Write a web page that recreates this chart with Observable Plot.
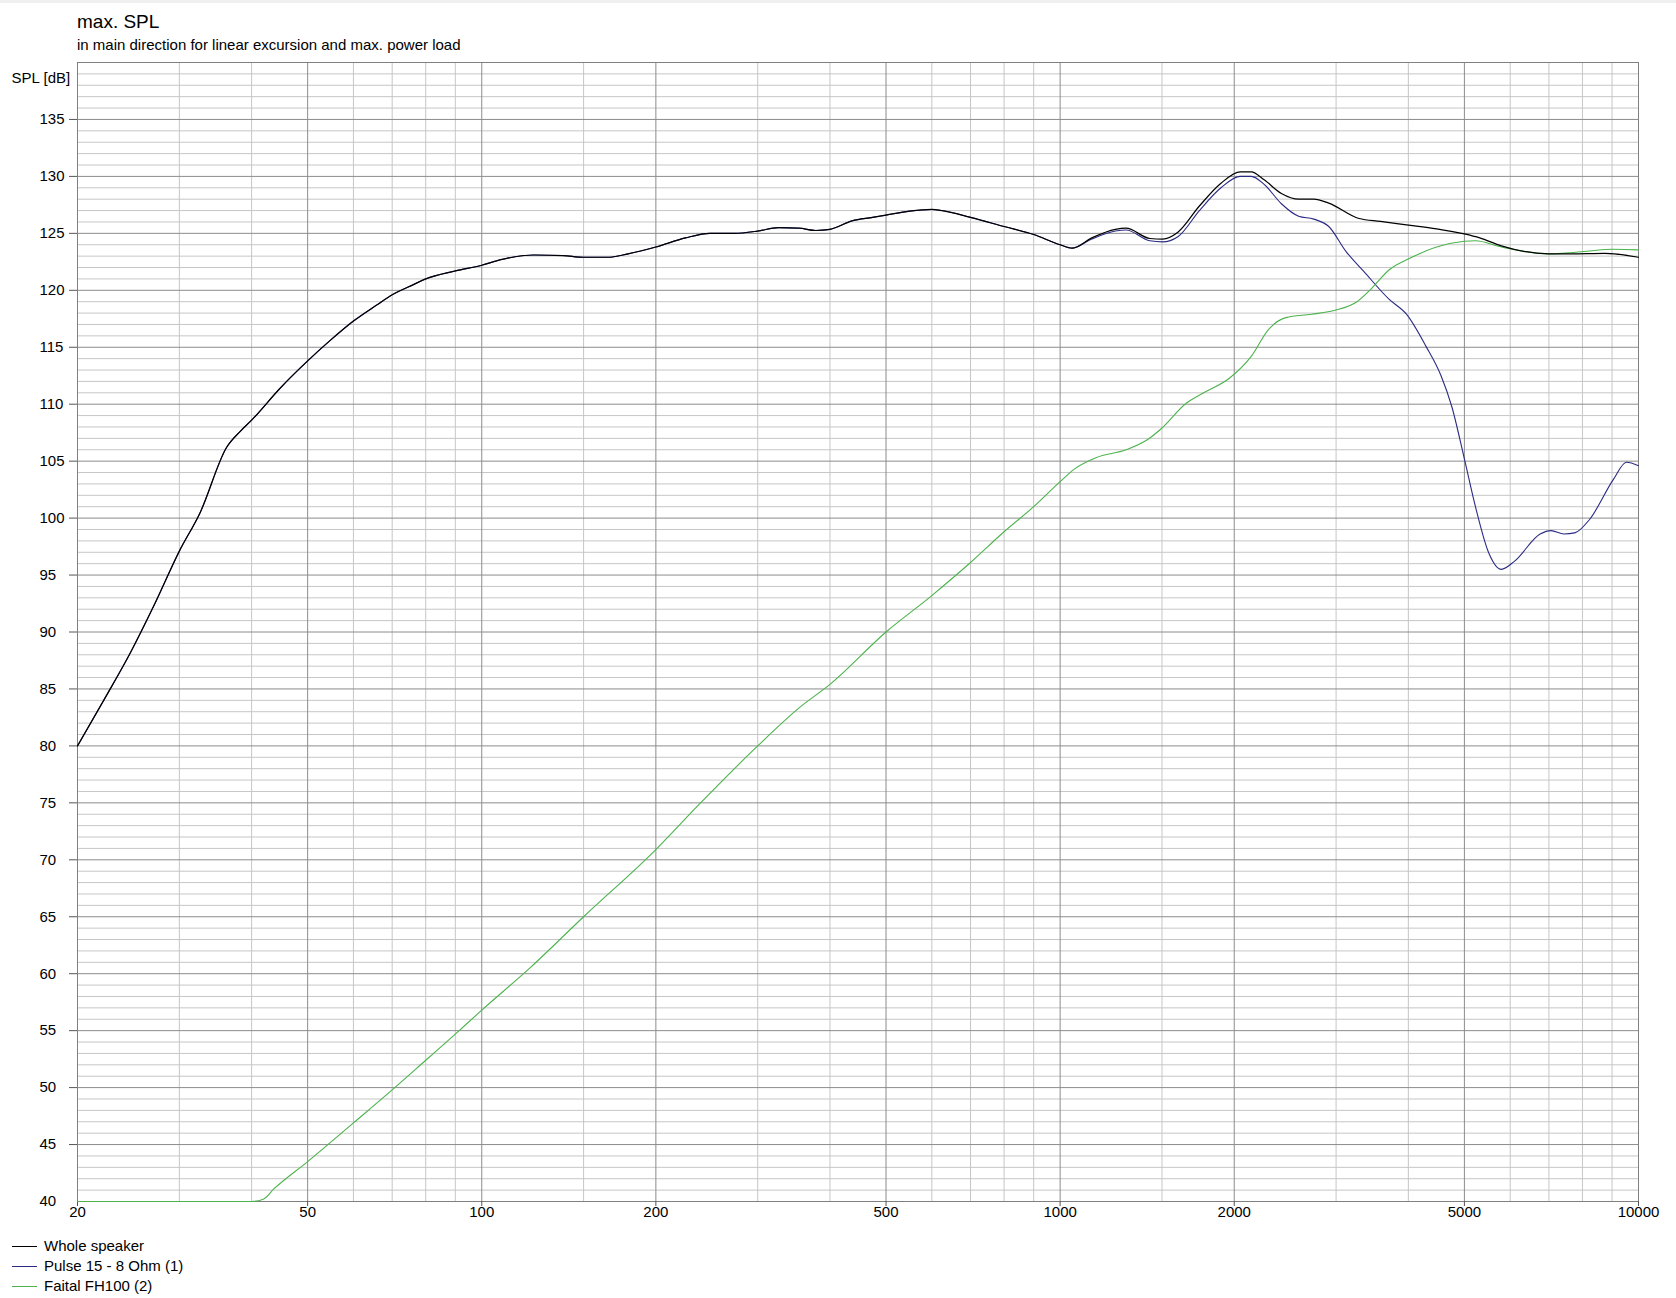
<!DOCTYPE html>
<html>
<head>
<meta charset="utf-8">
<script src="https://cdn.jsdelivr.net/npm/d3@7"></script>
<script src="https://cdn.jsdelivr.net/npm/@observablehq/plot@0.6"></script>
<style>
  body { margin: 0; background: #fff; font-family: "Liberation Sans", Arial, sans-serif; color: #000; }
  #wrap { position: relative; width: 1676px; }
  #strip { position: absolute; left: 0; top: 0; width: 1676px; height: 3px; background: #efefef; }
  #head { position: relative; height: 56px; }
  #title { position: absolute; left: 77px; top: 12px; font-size: 19px; line-height: 19px; white-space: nowrap; }
  #sub { position: absolute; left: 77px; top: 37px; font-size: 15px; line-height: 15px; white-space: nowrap; }
  #chart svg { display: block; }
  #legend { position: relative; height: 67px; }
  .lline { position: absolute; left: 12px; width: 25px; height: 1px; }
  .ltext { position: absolute; left: 44px; font-size: 15px; line-height: 20px; height: 20px; white-space: nowrap; }
</style>
</head>
<body>
<div id="wrap">
  <div id="head">
    <div id="strip"></div>
    <div id="title">max. SPL</div>
    <div id="sub">in main direction for linear excursion and max. power load</div>
  </div>
  <div id="chart"></div>
  <div id="legend"></div>
</div>
<script>
// ---- data ----
const seriesNames = ["Whole speaker", "Pulse 15 - 8 Ohm (1)", "Faital FH100 (2)"];
const seriesColors = ["#000000", "#2b2b85", "#4cb34c"];

const freqWhole = [20, 22.2, 24.7, 27.1, 30, 32.6, 36.2, 38.2, 40, 44.8, 50, 54.7, 60, 65.8, 70, 76.2, 80, 90, 100, 108, 123, 138, 150, 165, 179, 200, 225, 248, 273, 300, 326, 354, 378, 400, 437, 474, 500, 549, 600, 625, 700, 800, 900, 1000, 1049, 1134, 1246, 1300, 1429, 1504, 1598, 1741, 1897, 2049, 2140, 2253, 2413, 2585, 2745, 2914, 3287, 3580, 3970, 4477, 5000, 5316, 5792, 7000, 7625, 8745, 10000];
const splWhole = [80.0, 84.0, 88.2, 92.3, 97.1, 100.5, 106.2, 107.6, 108.6, 111.4, 113.8, 115.6, 117.3, 118.7, 119.6, 120.5, 121.0, 121.7, 122.2, 122.7, 123.1, 123.05, 122.9, 122.9, 123.2, 123.8, 124.6, 125.0, 125.0, 125.2, 125.5, 125.45, 125.25, 125.35, 126.1, 126.4, 126.6, 126.95, 127.1, 127.0, 126.4, 125.6, 124.9, 124.0, 123.7, 124.6, 125.35, 125.45, 124.55, 124.5, 125.1, 127.4, 129.4, 130.4, 130.4, 129.7, 128.5, 128.0, 128.0, 127.65, 126.3, 126.05, 125.75, 125.4, 124.95, 124.6, 123.9, 123.2, 123.2, 123.25, 122.9];

const freqPulse = [20, 22.2, 24.7, 27.1, 30, 32.6, 36.2, 38.2, 40, 44.8, 50, 54.7, 60, 65.8, 70, 76.2, 80, 90, 100, 108, 123, 138, 150, 165, 179, 200, 225, 248, 273, 300, 326, 354, 378, 400, 437, 474, 500, 549, 600, 625, 700, 800, 900, 1000, 1049, 1134, 1246, 1300, 1429, 1504, 1598, 1741, 1897, 2049, 2140, 2253, 2413, 2585, 2745, 2914, 3122, 3344, 3707, 3970, 4289, 4556, 4755, 5000, 5225, 5503, 5792, 6099, 6760, 7057, 7430, 7757, 8235, 9050, 9530, 10000];
const splPulse = [80.0, 84.0, 88.2, 92.3, 97.1, 100.5, 106.2, 107.6, 108.6, 111.4, 113.8, 115.6, 117.3, 118.7, 119.6, 120.5, 121.0, 121.7, 122.2, 122.7, 123.1, 123.05, 122.9, 122.9, 123.2, 123.8, 124.6, 125.0, 125.0, 125.2, 125.5, 125.45, 125.25, 125.35, 126.1, 126.4, 126.6, 126.95, 127.1, 127.0, 126.4, 125.6, 124.9, 124.0, 123.7, 124.5, 125.2, 125.3, 124.35, 124.25, 124.7, 127.0, 129.0, 130.0, 130.0, 129.3, 127.6, 126.5, 126.25, 125.6, 123.4, 121.7, 119.2, 117.9, 115.1, 112.5, 109.8, 105.2, 101.0, 97.0, 95.5, 96.2, 98.6, 98.9, 98.6, 98.7, 99.9, 103.4, 104.9, 104.6];

const freqFaital = [20, 40, 41.9, 43.7, 50, 60, 70, 80, 90, 100, 121.7, 150, 200, 238, 300, 355, 400, 500, 600, 700, 800, 900, 1000, 1058, 1153, 1300, 1417, 1492, 1654, 1771, 1964, 2140, 2292, 2455, 2721, 2990, 3260, 3460, 3707, 4040, 4477, 5000, 5225, 5792, 7000, 7625, 8030, 9050, 10000];
const splFaital = [40, 40, 40.2, 41.1, 43.5, 46.9, 49.8, 52.4, 54.7, 56.8, 60.6, 65.0, 70.9, 74.9, 80.0, 83.4, 85.4, 90.0, 93.2, 96.1, 98.8, 101.0, 103.2, 104.3, 105.3, 106.0, 106.9, 107.8, 110.1, 111.0, 112.3, 114.2, 116.55, 117.6, 117.9, 118.25, 119.0, 120.2, 121.8, 122.85, 123.8, 124.3, 124.35, 123.8, 123.2, 123.3, 123.4, 123.6, 123.55];

// axis / grid values
const xTicks = [20, 50, 100, 200, 500, 1000, 2000, 5000, 10000];
const xGridMajor = [50, 100, 200, 500, 1000, 2000, 5000];
const xGridMinor = [30, 40, 60, 70, 80, 90, 150, 300, 400, 600, 700, 800, 900, 1500, 3000, 4000, 6000, 7000, 8000, 9000];
const yTicks = [45, 50, 55, 60, 65, 70, 75, 80, 85, 90, 95, 100, 105, 110, 115, 120, 125, 130, 135];
const yLabels = [40, 45, 50, 55, 60, 65, 70, 75, 80, 85, 90, 95, 100, 105, 110, 115, 120, 125, 130, 135];
const yGridMinor = d3.range(41, 140).filter(d => d % 5 !== 0);
const yAxisLabel = "SPL [dB]";

const rows = (f, v) => f.map((x, i) => ({ f: x, spl: v[i] }));
const whole = rows(freqWhole, splWhole);
const pulse = rows(freqPulse, splPulse);
const faital = rows(freqFaital, splFaital);

const chart = Plot.plot({
  width: 1676,
  height: 1175,
  marginTop: 6,
  marginLeft: 77,
  marginRight: 38,
  marginBottom: 30,
  style: { fontFamily: "'Liberation Sans', Arial, sans-serif", fontSize: "15px", color: "#000", background: "#fff" },
  x: { type: "log", domain: [20, 10000] },
  y: { type: "linear", domain: [40, 140] },
  marks: [
    Plot.ruleY(yGridMinor, { y: d => d, stroke: "#c6c6c6", strokeWidth: 1 }),
    Plot.ruleX(xGridMinor, { x: d => d, stroke: "#c6c6c6", strokeWidth: 1 }),
    Plot.ruleY(yTicks, { y: d => d, stroke: "#8c8c8c", strokeWidth: 1 }),
    Plot.ruleX(xGridMajor, { x: d => d, stroke: "#8c8c8c", strokeWidth: 1 }),
    Plot.frame({ stroke: "#808080" }),
    Plot.axisX({ ticks: xTicks, tickSize: 5, tickFormat: () => "", fill: "none", label: null, stroke: "#555" }),
    Plot.text(xTicks, { x: d => d, text: d => String(d), frameAnchor: "bottom", dy: 15, textAnchor: "middle" }),
    Plot.axisY({ ticks: yTicks, tickSize: 8, tickFormat: () => "", fill: "none", label: null, stroke: "#555" }),
    Plot.text(yLabels, { y: d => d, text: d => String(d), frameAnchor: "left", dx: -38, textAnchor: "start" }),
    Plot.text([yAxisLabel], { text: d => d, frameAnchor: "top-left", dx: -66, dy: 10, textAnchor: "start" }),
    Plot.line(pulse, { x: "f", y: "spl", stroke: seriesColors[1], strokeWidth: 1.1, curve: "monotone-x" }),
    Plot.line(faital, { x: "f", y: "spl", stroke: seriesColors[2], strokeWidth: 1.1, curve: "monotone-x" }),
    Plot.line(whole, { x: "f", y: "spl", stroke: seriesColors[0], strokeWidth: 1.2, curve: "monotone-x" })
  ]
});
document.getElementById("chart").appendChild(chart);

// legend
const legend = document.getElementById("legend");
seriesNames.forEach((name, i) => {
  const line = document.createElement("div");
  line.className = "lline";
  line.style.top = (15 + 20 * i) + "px";
  line.style.background = seriesColors[i];
  legend.appendChild(line);
  const t = document.createElement("div");
  t.className = "ltext";
  t.style.top = (5 + 20 * i) + "px";
  t.textContent = name;
  legend.appendChild(t);
});
</script>
</body>
</html>
